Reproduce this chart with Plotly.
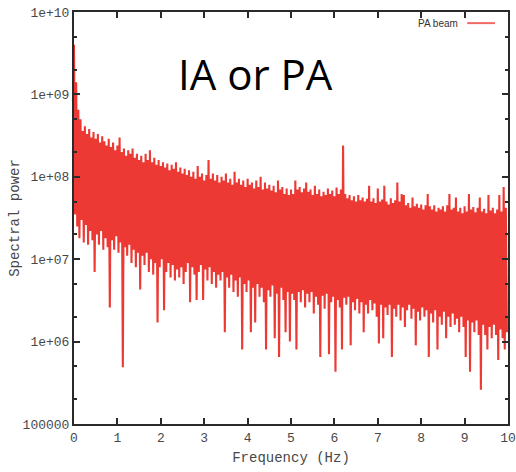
import plotly.graph_objects as go

# ---- data (0.05 Hz bins: one peak and one trough per bin) ----
bin_width_hz = 0.05
peak_power = [
    4.0e9, 1.4e9, 6.5e8, 5.0e8, 3.6e8, 4.1e8, 3.3e8, 3.8e8, 3.0e8, 3.5e8,
    2.9e8, 3.3e8, 2.6e8, 3.1e8, 2.7e8, 2.4e8, 2.9e8, 2.3e8, 2.6e8, 2.1e8,
    2.4e8, 3.0e8, 2.0e8, 2.2e8, 1.8e8, 2.1e8, 1.9e8, 2.2e8, 1.7e8, 1.9e8,
    1.6e8, 1.8e8, 1.5e8, 1.9e8, 1.6e8, 2.1e8, 1.5e8, 1.7e8, 1.4e8, 1.6e8,
    1.35e8, 1.5e8, 1.3e8, 1.45e8, 1.2e8, 1.4e8, 1.25e8, 1.5e8, 1.15e8, 1.3e8,
    1.1e8, 1.25e8, 1.05e8, 1.2e8, 1.0e8, 1.15e8, 9.5e7, 1.35e8, 1.0e8, 1.1e8,
    9.0e7, 1.05e8, 1.6e8, 9.5e7, 1.1e8, 9.0e7, 1.05e8, 8.5e7, 1.0e8, 9.0e7,
    1.1e8, 8.5e7, 9.5e7, 8.0e7, 1.15e8, 8.5e7, 9.5e7, 8.0e7, 9.0e7, 7.5e7,
    9.5e7, 8.0e7, 8.5e7, 7.2e7, 9.0e7, 7.5e7, 1.0e8, 7.0e7, 8.5e7, 7.2e7,
    8.0e7, 6.8e7, 7.8e7, 6.5e7, 9.0e7, 7.0e7, 7.5e7, 6.2e7, 7.2e7, 6.0e7,
    7.0e7, 6.2e7, 9.0e7, 7.0e7, 7.5e7, 6.5e7, 7.2e7, 8.5e7, 6.6e7, 7.0e7,
    6.0e7, 7.8e7, 6.2e7, 7.0e7, 5.8e7, 6.6e7, 6.0e7, 7.2e7, 6.2e7, 6.8e7,
    5.8e7, 7.4e7, 6.2e7, 7.0e7, 2.4e8, 6.2e7, 5.5e7, 6.0e7, 5.2e7, 5.8e7,
    5.0e7, 6.0e7, 5.2e7, 5.6e7, 5.0e7, 5.4e7, 7.8e7, 5.0e7, 5.5e7, 4.8e7,
    7.2e7, 5.0e7, 5.3e7, 7.8e7, 5.0e7, 4.6e7, 5.5e7, 4.8e7, 5.2e7, 8.5e7,
    5.0e7, 6.2e7, 6.0e7, 4.5e7, 4.8e7, 4.2e7, 5.6e7, 4.4e7, 4.7e7, 4.2e7,
    4.6e7, 4.0e7, 4.5e7, 6.2e7, 4.4e7, 4.0e7, 4.5e7, 3.8e7, 4.2e7, 4.0e7,
    4.4e7, 3.8e7, 4.5e7, 6.2e7, 4.0e7, 4.2e7, 5.6e7, 3.8e7, 4.2e7, 3.6e7,
    4.4e7, 3.8e7, 6.2e7, 4.0e7, 4.3e7, 3.7e7, 4.2e7, 5.6e7, 3.8e7, 4.1e7,
    3.6e7, 6.0e7, 3.9e7, 4.2e7, 3.6e7, 4.0e7, 6.0e7, 3.8e7, 7.5e7, 4.2e7,
]
trough_power = [
    3.5e7, 2.5e7, 1.8e7, 3.0e7, 1.6e7, 2.6e7, 1.5e7, 2.2e7, 1.7e7, 7.0e6,
    2.0e7, 1.5e7, 2.2e7, 1.3e7, 1.8e7, 1.4e7, 2.6e6, 1.7e7, 1.3e7, 1.9e7,
    1.2e7, 1.6e7, 4.9e5, 1.4e7, 1.1e7, 1.5e7, 9.0e6, 1.3e7, 8.0e6, 1.2e7,
    4.3e6, 1.1e7, 8.5e6, 1.2e7, 7.0e6, 1.0e7, 6.5e6, 9.0e6, 1.7e6, 8.0e6,
    1.0e7, 2.4e6, 7.0e6, 9.0e6, 6.0e6, 8.5e6, 5.5e6, 7.5e6, 6.0e6, 8.0e6,
    5.0e6, 7.0e6, 9.0e6, 3.0e6, 8.0e6, 6.5e6, 3.2e6, 7.0e6, 8.5e6, 3.2e6,
    7.5e6, 5.5e6, 8.0e6, 5.0e6, 7.0e6, 4.5e6, 6.5e6, 5.5e6, 7.0e6, 1.3e6,
    6.0e6, 4.5e6, 6.5e6, 4.0e6, 5.5e6, 3.5e6, 6.0e6, 8.0e5, 5.0e6, 4.0e6,
    5.5e6, 1.3e6, 4.5e6, 1.7e6, 5.0e6, 3.5e6, 4.5e6, 3.0e6, 8.0e5, 4.2e6,
    3.5e6, 4.8e6, 1.1e6, 3.8e6, 6.5e5, 4.5e6, 3.2e6, 1.3e6, 4.0e6, 1.0e6,
    3.8e6, 3.2e6, 8.0e5, 4.0e6, 3.0e6, 4.2e6, 2.6e6, 3.8e6, 3.0e6, 4.0e6,
    2.2e6, 3.5e6, 2.8e6, 6.5e5, 3.6e6, 2.5e6, 3.8e6, 7.0e5, 3.0e6, 3.5e6,
    4.3e5, 3.2e6, 2.6e6, 8.0e5, 3.4e6, 2.8e6, 3.5e6, 9.0e5, 3.0e6, 2.4e6,
    3.3e6, 2.2e6, 3.0e6, 1.3e6, 2.8e6, 2.2e6, 3.2e6, 2.4e6, 2.9e6, 2.0e6,
    9.5e5, 2.8e6, 1.1e6, 2.6e6, 2.1e6, 2.8e6, 6.5e5, 2.5e6, 2.0e6, 2.8e6,
    1.8e6, 2.6e6, 1.5e6, 2.4e6, 2.8e6, 1.9e6, 2.5e6, 9.0e5, 2.3e6, 1.8e6,
    2.6e6, 2.0e6, 2.4e6, 6.5e5, 2.2e6, 1.7e6, 2.4e6, 8.0e5, 2.0e6, 1.6e6,
    2.3e6, 1.1e6, 2.0e6, 1.5e6, 2.2e6, 1.6e6, 1.9e6, 1.3e6, 2.0e6, 1.5e6,
    6.5e5, 1.8e6, 4.3e5, 1.7e6, 1.3e6, 1.8e6, 1.2e6, 2.6e5, 1.6e6, 1.2e6,
    8.0e5, 1.5e6, 1.1e6, 1.6e6, 1.2e6, 6.0e5, 1.4e6, 1.1e6, 8.0e5, 1.3e6,
]
x_ticks = [0, 1, 2, 3, 4, 5, 6, 7, 8, 9, 10]
y_tick_values = [1e5, 1e6, 1e7, 1e8, 1e9, 1e10]
y_tick_labels = ["100000", "1e+06", "1e+07", "1e+08", "1e+09", "1e+10"]
y_minor_values = [2e5, 5e5, 2e6, 5e6, 2e7, 5e7, 2e8, 5e8, 2e9, 5e9]
series_name = "PA beam"
overlay_text = "IA or PA"

# interleave peaks and troughs into one dense line (gnuplot "with lines" look)
freq, power = [], []
for i, (hi, lo) in enumerate(zip(peak_power, trough_power)):
    freq.append(round(i * bin_width_hz, 4))
    power.append(hi)
    freq.append(round(i * bin_width_hz + bin_width_hz / 2, 4))
    power.append(lo)

RED = "#EC3934"
AXIS = "#2a2a2a"
TXT = "#484848"
MONO = "Liberation Mono, DejaVu Sans Mono, monospace"

fig = go.Figure()
fig.add_trace(go.Scatter(
    x=freq, y=power, mode="lines", name=series_name,
    line=dict(color=RED, width=2.1), showlegend=False,
))

fig.update_layout(
    width=516, height=472,
    margin=dict(l=74, r=8, t=12, b=48, pad=0),
    paper_bgcolor="white", plot_bgcolor="white",
    font=dict(family=MONO, size=13, color=TXT),
)
fig.update_xaxes(
    range=[0, 10], tickvals=x_ticks, ticks="inside", ticklen=6, tickwidth=1.5,
    tickcolor=AXIS, showline=True, linewidth=2, linecolor=AXIS, mirror="ticks",
    showgrid=False, zeroline=False, automargin=False,
    title=dict(text="Frequency (Hz)", font=dict(family=MONO, size=14, color=TXT), standoff=8),
    tickfont=dict(family=MONO, size=13, color=TXT),
)
fig.update_yaxes(
    type="log", range=[5, 10], tickvals=y_tick_values, ticktext=y_tick_labels,
    ticks="inside", ticklen=6, tickwidth=1.5, tickcolor=AXIS,
    showline=True, linewidth=2, linecolor=AXIS, mirror="ticks",
    showgrid=False, zeroline=False, automargin=False,
    minor=dict(tickvals=y_minor_values, ticks="inside", ticklen=3, tickcolor=AXIS, showgrid=False),
    title=dict(text="Spectral power", font=dict(family=MONO, size=14, color=TXT), standoff=0),
    tickfont=dict(family=MONO, size=13, color=TXT),
)

# gnuplot-style key: text then line sample
fig.add_annotation(x=0.889, y=0.973, xref="paper", yref="paper", text=series_name,
                   showarrow=False, xanchor="right", yanchor="middle",
                   font=dict(family="Liberation Sans, Arial, sans-serif", size=10, color="#333"))
fig.add_shape(type="line", xref="paper", yref="paper", x0=0.906, x1=0.970, y0=0.973, y1=0.973,
              line=dict(color="#F06A66", width=2))

fig.add_annotation(x=0.419, y=0.851, xref="paper", yref="paper", text=overlay_text,
                   showarrow=False, xanchor="center", yanchor="middle",
                   font=dict(family="Open Sans, Lato, sans-serif", size=42, color="black"))

fig.write_html("out.html", config={"displayModeBar": False},
               post_script="document.body.style.margin='0';document.body.style.padding='0';")
